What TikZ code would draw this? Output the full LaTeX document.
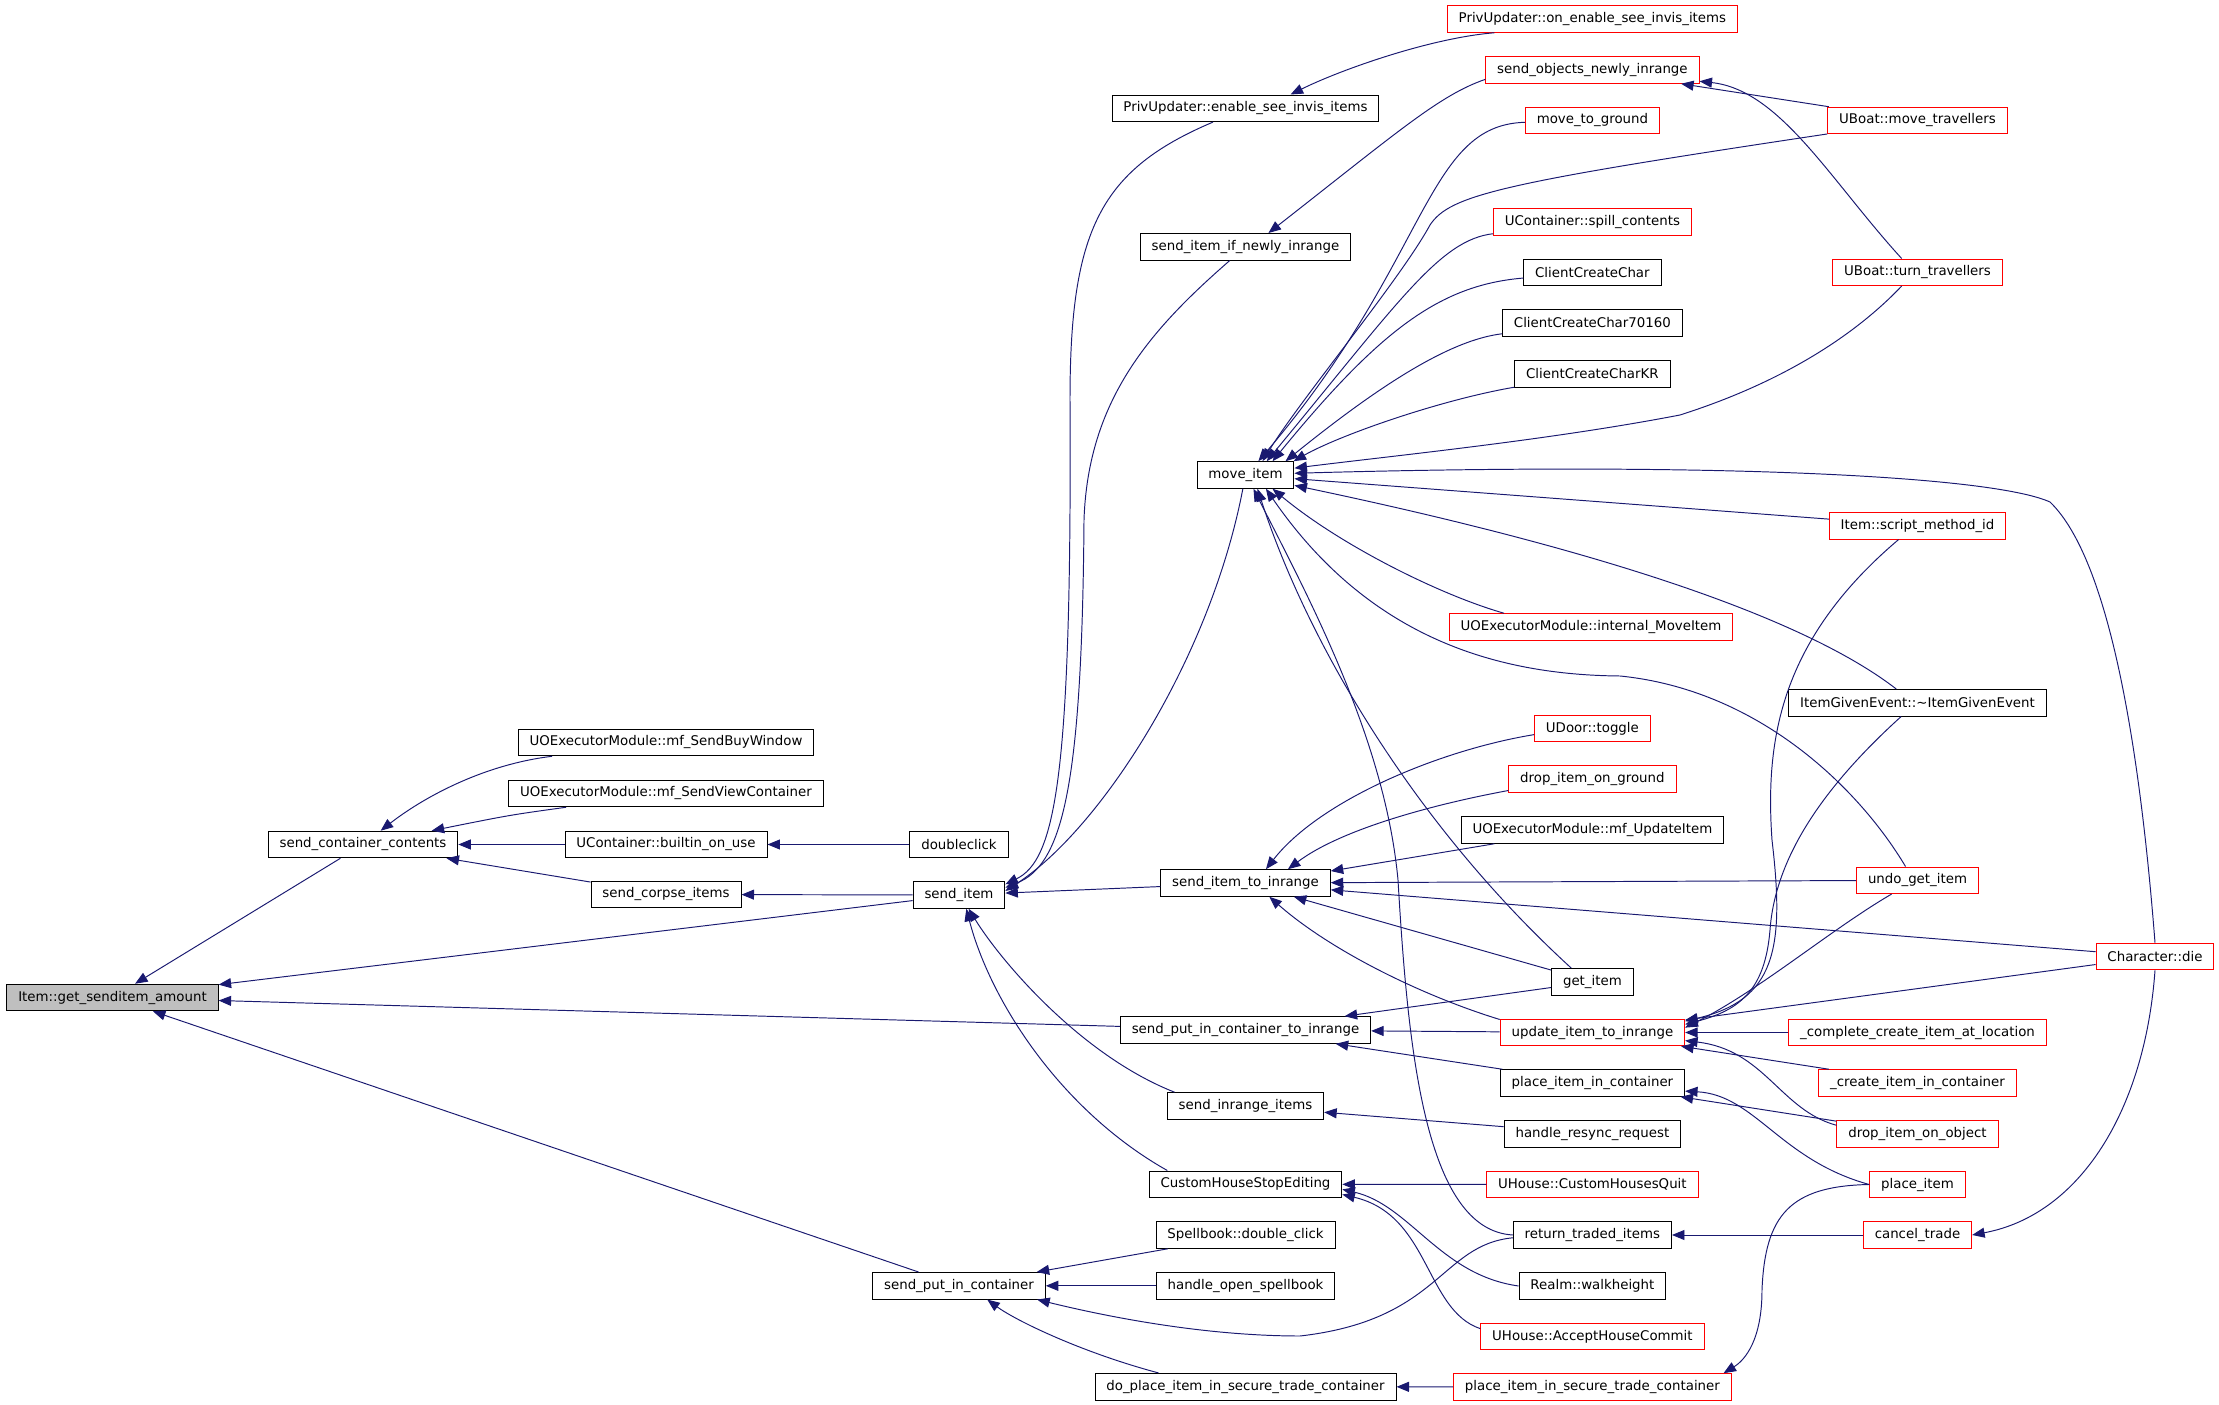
\documentclass[tikz,border=0pt]{standalone}
\usepackage{fontspec}
\setmainfont{DejaVu Sans}
\usetikzlibrary{arrows.meta}

\definecolor{edgeblue}{RGB}{25,25,112}
\definecolor{nodered}{RGB}{255,0,0}
\definecolor{rootgrey}{RGB}{191,191,191}

\tikzset{
	fn/.style={rectangle, draw=black, line width=0.55pt, inner xsep=0.228cm, inner ysep=0pt, minimum height=0.532cm, font=\fontsize{7.6}{9}\selectfont},
	fnred/.style={fn, draw=nodered},
	fnroot/.style={fn, fill=rootgrey},
	call/.style={draw=edgeblue, line width=0.55pt, -{Triangle[length=0.25cm,width=0.2cm]}}
}

\begin{document}
\begin{tikzpicture}[x=0.02cm, y=-0.02cm]
					\useasboundingbox (0,0) rectangle (2219,1405);
					% Draw the vertices.
					\node at (112.5,997.5) [fnroot] (item) {Item::get\_senditem\_amount};
					\node at (363,844.5) [fn] (sendcont) {send\_container\_contents};
					\node at (666,742.5) [fn] (buywin) {UOExecutorModule::mf\_SendBuyWindow};
					\node at (666,793.5) [fn] (viewcont) {UOExecutorModule::mf\_SendViewContainer};
					\node at (666,844.5) [fn] (builtin) {UContainer::builtin\_on\_use};
					\node at (666,894.5) [fn] (corpse) {send\_corpse\_items};
					\node at (959,844.5) [fn] (dblclick) {doubleclick};
					\node at (959,895) [fn] (senditem) {send\_item};
					\node at (959,1285.8) [fn] (putin) {send\_put\_in\_container};
					\node at (1245.5,108.3) [fn] (enable) {PrivUpdater::enable\_see\_invis\_items};
					\node at (1245.5,246.8) [fn] (ifnewly) {send\_item\_if\_newly\_inrange};
					\node at (1245.5,475) [fn] (moveitem) {move\_item};
					\node at (1245.5,883) [fn] (toinrange) {send\_item\_to\_inrange};
					\node at (1245.5,1030) [fn] (putinrange) {send\_put\_in\_container\_to\_inrange};
					\node at (1245.5,1106) [fn] (inrangeitems) {send\_inrange\_items};
					\node at (1245.5,1184.3) [fn] (customstop) {CustomHouseStopEditing};
					\node at (1245.5,1235) [fn] (spelldbl) {Spellbook::double\_click};
					\node at (1245.5,1285.8) [fn] (openspell) {handle\_open\_spellbook};
					\node at (1245.5,1386.7) [fn] (doplace) {do\_place\_item\_in\_secure\_trade\_container};
					\node at (1592.4,19) [fnred] (onenable) {PrivUpdater::on\_enable\_see\_invis\_items};
					\node at (1592.4,70) [fnred] (newlyinr) {send\_objects\_newly\_inrange};
					\node at (1592.4,120.5) [fnred] (toground) {move\_to\_ground};
					\node at (1592.4,222) [fnred] (spill) {UContainer::spill\_contents};
					\node at (1592.4,272.3) [fn] (ccc) {ClientCreateChar};
					\node at (1592.4,323) [fn] (ccc70) {ClientCreateChar70160};
					\node at (1592.4,373.8) [fn] (ccckr) {ClientCreateCharKR};
					\node at (1591,627) [fnred] (imove) {UOExecutorModule::internal\_MoveItem};
					\node at (1592.4,728.5) [fnred] (udoor) {UDoor::toggle};
					\node at (1592.4,778.7) [fnred] (dropground) {drop\_item\_on\_ground};
					\node at (1592.4,830) [fn] (updateitem) {UOExecutorModule::mf\_UpdateItem};
					\node at (1592.4,981.8) [fn] (getitem) {get\_item};
					\node at (1592.4,1032.5) [fnred] (updateinr) {update\_item\_to\_inrange};
					\node at (1592.4,1083) [fn] (placeincont) {place\_item\_in\_container};
					\node at (1592.4,1133.8) [fn] (resync) {handle\_resync\_request};
					\node at (1592.4,1184.5) [fnred] (housesquit) {UHouse::CustomHousesQuit};
					\node at (1592.4,1235) [fn] (returntraded) {return\_traded\_items};
					\node at (1592.4,1286) [fn] (walkheight) {Realm::walkheight};
					\node at (1592.4,1336.5) [fnred] (accept) {UHouse::AcceptHouseCommit};
					\node at (1592.4,1387) [fnred] (securetrade) {place\_item\_in\_secure\_trade\_container};
					\node at (1917.5,120.5) [fnred] (umove) {UBoat::move\_travellers};
					\node at (1917.5,272.3) [fnred] (uturn) {UBoat::turn\_travellers};
					\node at (1917.5,525.8) [fnred] (scriptid) {Item::script\_method\_id};
					\node at (1917.5,702.8) [fn] (itemgiven) {ItemGivenEvent::\textasciitilde ItemGivenEvent};
					\node at (1917.5,880.3) [fnred] (undo) {undo\_get\_item};
					\node at (1917.5,1032.5) [fnred] (complete) {\_complete\_create\_item\_at\_location};
					\node at (1917.5,1083) [fnred] (createcont) {\_create\_item\_in\_container};
					\node at (1917.5,1133.8) [fnred] (dropobj) {drop\_item\_on\_object};
					\node at (1917.5,1184.5) [fnred] (placeitem) {place\_item};
					\node at (1917.5,1235) [fnred] (cancel) {cancel\_trade};
					\node at (2155,956.5) [fnred] (chardie) {Character::die};

					% Connect vertices with edges
					\path (sendcont) edge[call] (item);
					\path (senditem) edge[call] (item);
					\path (putinrange) edge[call] (item);
					\path (putin) edge[call] (item);
					\path (builtin) edge[call] (sendcont);
					\path (corpse) edge[call] (sendcont);
					\path (dblclick) edge[call] (builtin);
					\path (senditem) edge[call] (corpse);
					\path (toinrange) edge[call] (senditem);
					\path (umove) edge[call] (newlyinr);
					\path (scriptid) edge[call] (moveitem);
					\path (updateitem.188) edge[call] (toinrange.8);
					\path (undo) edge[call] (toinrange);
					\path (chardie) edge[call] (toinrange);
					\path (getitem) edge[call] (toinrange);
					\path (getitem) edge[call] (putinrange);
					\path (updateinr) edge[call] (putinrange);
					\path (placeincont) edge[call] (putinrange);
					\path (resync) edge[call] (inrangeitems);
					\path (housesquit) edge[call] (customstop);
					\path (spelldbl) edge[call] (putin);
					\path (openspell) edge[call] (putin);
					\path (securetrade) edge[call] (doplace);
					\path (chardie) edge[call] (updateinr);
					\path (complete) edge[call] (updateinr);
					\path (createcont) edge[call] (updateinr);
					\path (dropobj) edge[call] (placeincont);
					\path (cancel) edge[call] (returntraded);

					\draw[call] (buywin) .. controls (480,765) and (420,800) .. (sendcont);
					\draw[call] (viewcont) .. controls (510,815) .. (sendcont);
					\draw[call] (enable) .. controls (1100,170) and (1070,230) .. (1070,400) .. controls (1072,780) and (1055,860) .. (senditem.13);
					\draw[call] (ifnewly) .. controls (1150,330) and (1088,400) .. (1084,520) .. controls (1082,790) and (1062,865) .. (senditem.9);
					\draw[call] (moveitem) .. controls (1210,660) and (1100,830) .. (senditem.5);
					\draw[call] (inrangeitems.169) .. controls (1080,1055) and (1000,960) .. (senditem.-55);
					\draw[call] (customstop.170) .. controls (1060,1110) and (990,1000) .. (senditem.-62);
					\draw[call] (onenable.188) .. controls (1430,38) and (1340,70) .. (enable.17);
					\draw[call] (newlyinr.185) .. controls (1440,95) and (1400,130) .. (ifnewly.31);
					\draw[call] (uturn.139) .. controls (1830,180) and (1780,90) .. (newlyinr.-6);
					\draw[call] (toground) .. controls (1425,125) and (1430,260) .. (moveitem.47);
					\draw[call] (umove) .. controls (1500,183) and (1450,195) .. (1430,225) .. controls (1400,280) and (1300,400) .. (moveitem.39);
					\draw[call] (spill) .. controls (1440,240) and (1400,300) .. (moveitem.33);
					\draw[call] (ccc) .. controls (1440,285) and (1380,330) .. (moveitem.27);
					\draw[call] (ccc70) .. controls (1450,340) and (1380,385) .. (moveitem.19);
					\draw[call] (ccckr) .. controls (1440,400) and (1340,435) .. (moveitem.16);
					\draw[call] (uturn.-139) .. controls (1860,330) and (1790,380) .. (1680,415) .. controls (1550,440) and (1400,455) .. (moveitem.8);
					\draw[call] (chardie.north) .. controls (2140,750) and (2110,560) .. (2050,502) .. controls (1990,475) and (1700,462) .. (moveitem.2);
					\draw[call] (imove.171) .. controls (1440,595) and (1340,545) .. (moveitem.-27);
					\draw[call] (itemgiven.147) .. controls (1820,630) and (1650,560) .. (moveitem.-12);
					\draw[call] (undo.131) .. controls (1860,790) and (1760,690) .. (1620,676) .. controls (1500,675) and (1370,640) .. (moveitem.-34);
					\draw[call] (getitem.147) .. controls (1420,830) and (1310,650) .. (moveitem.-49);
					\draw[call] (returntraded.west) .. controls (1425,1230) and (1408,1050) .. (1398,880) .. controls (1385,740) and (1310,600) .. (moveitem.-60);
					\draw[call] (udoor.186) .. controls (1440,750) and (1320,800) .. (toinrange.34);
					\draw[call] (dropground.188) .. controls (1430,805) and (1340,830) .. (toinrange.18);
					\draw[call] (updateinr.172) .. controls (1420,995) and (1330,950) .. (toinrange.-30);
					\draw[call] (walkheight.west) .. controls (1440,1275) and (1410,1205) .. (customstop.-3);
					\draw[call] (accept.176) .. controls (1425,1310) and (1430,1215) .. (customstop.-6);
					\draw[call] (returntraded.182) .. controls (1440,1245) and (1440,1320) .. (1300,1336) .. controls (1200,1336) and (1100,1315) .. (putin.-10);
					\draw[call] (doplace.171) .. controls (1080,1352) and (1015,1320) .. (putin.-26);
					\draw[call] (scriptid.216) .. controls (1780,640) and (1765,740) .. (1772,840) .. controls (1785,950) and (1775,1000) .. (updateinr.7);
					\draw[call] (itemgiven.-140) .. controls (1820,790) and (1775,860) .. (1770,930) .. controls (1765,990) and (1740,1010) .. (updateinr.5);
					\draw[call] (undo.-152) .. controls (1830,930) and (1760,990) .. (updateinr.3);
					\draw[call] (dropobj.174) .. controls (1780,1110) and (1765,1050) .. (updateinr.-5);
					\draw[call] (placeitem.west) .. controls (1780,1160) and (1755,1095) .. (placeincont.-5);
					\draw[call] (placeitem.west) .. controls (1790,1186) and (1765,1215) .. (1762,1290) .. controls (1762,1340) and (1745,1360) .. (securetrade.6);
					\draw[call] (chardie.south) .. controls (2145,1110) and (2080,1215) .. (cancel.east);
				\end{tikzpicture}
\end{document}
